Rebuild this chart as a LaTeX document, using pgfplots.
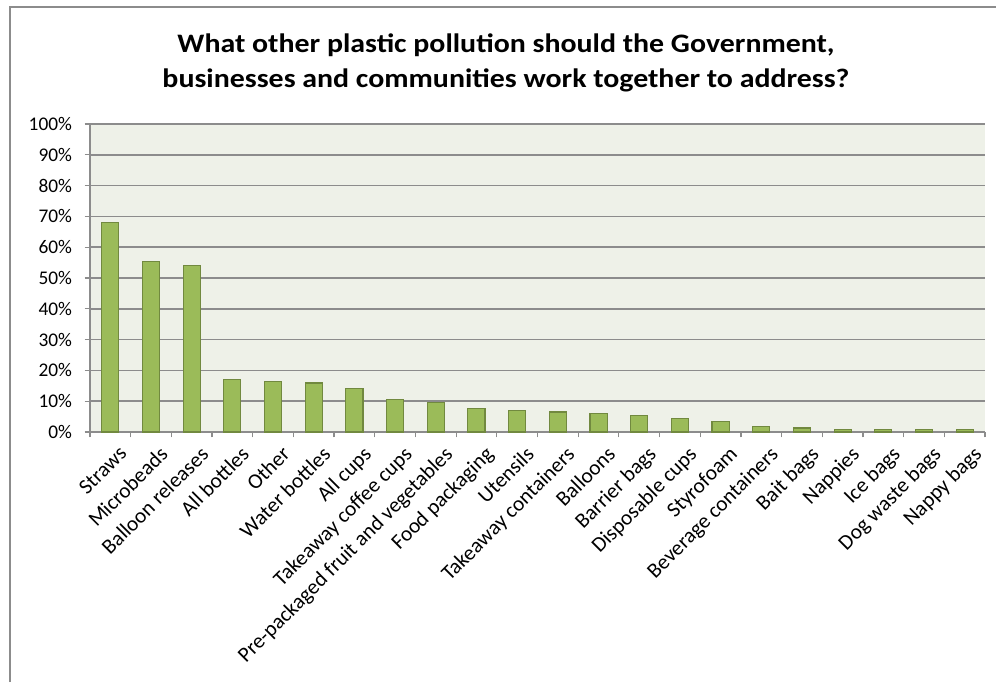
\documentclass[border=0pt]{standalone}
\usepackage{pgfplots}
\pgfplotsset{compat=1.18}
\usepackage{fontspec}
\setmainfont{Carlito}
\definecolor{barfill}{HTML}{9BBB59}
\definecolor{bardraw}{HTML}{71893F}
\definecolor{plotbg}{HTML}{EEF1E8}
\definecolor{gridgray}{HTML}{8C8C8C}
\begin{document}
\begin{tikzpicture}[x=0.75pt,y=0.75pt]
\path[use as bounding box] (0,0) rectangle (996,682);
\draw[gridgray, line width=1.1pt] (10,0) -- (10,675) -- (996,675);
\node[font=\bfseries\fontsize{20}{24}\selectfont, xscale=1.12, transform shape] at (506,637) {What other plastic pollution should the Government,};
\node[font=\bfseries\fontsize{20}{24}\selectfont, xscale=1.12, transform shape] at (506,602) {businesses and communities work together to address?};
\begin{axis}[
  at={(67.5pt,187.5pt)}, anchor=south west,
  scale only axis, width=671.25pt, height=231pt,
  axis background/.style={fill=plotbg},
  axis x line*=bottom, axis y line*=left,
  axis line style={gridgray, line width=1.1pt},
  tick align=outside, major tick length=4pt,
  tick style={gridgray, line width=0.9pt},
  ymin=0, ymax=100, ytick={0,10,...,100},
  yticklabels={0\%,10\%,20\%,30\%,40\%,50\%,60\%,70\%,80\%,90\%,100\%},
  ymajorgrids, grid style={gridgray, line width=1.1pt},
  xmin=-0.5, xmax=21.5,
  xtick={-0.5,0.5,1.5,2.5,3.5,4.5,5.5,6.5,7.5,8.5,9.5,10.5,11.5,12.5,13.5,14.5,15.5,16.5,17.5,18.5,19.5,20.5,21.5},
  x tick label as interval,
  xticklabels={Straws,Microbeads,Balloon releases,All bottles,Other,Water bottles,All cups,Takeaway coffee cups,Pre-packaged fruit and vegetables,Food packaging,Utensils,Takeaway containers,Balloons,Barrier bags,Disposable cups,Styrofoam,Beverage containers,Bait bags,Nappies,Ice bags,Dog waste bags,Nappy bags},
  x tick label style={rotate=45, anchor=north east, inner sep=1pt, yshift=-7pt, xshift=1pt, font=\fontsize{16}{18}\selectfont},
  y tick label style={font=\fontsize{14.5}{16}\selectfont, xshift=-6pt},
  ybar, bar width=0.42,
]
\addplot[fill=barfill, draw=bardraw, line width=0.8pt] coordinates {
(0,67.9) (1,55.3) (2,54.2) (3,16.9) (4,16.5) (5,15.9) (6,14.0) (7,10.6) (8,9.6) (9,7.7) (10,7.1) (11,6.5) (12,6.1) (13,5.5) (14,4.5) (15,3.5) (16,1.9) (17,1.3) (18,0.8) (19,0.8) (20,0.8) (21,0.8)
};
\end{axis}
\end{tikzpicture}
\end{document}
